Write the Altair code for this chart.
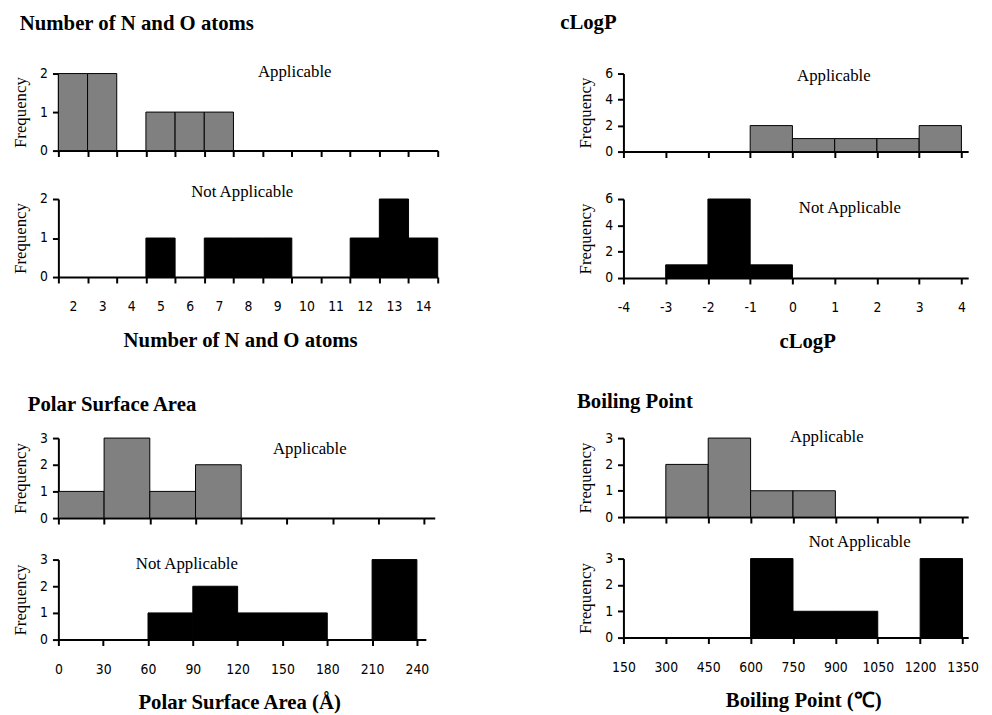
import altair as alt
import pandas as pd

SERIF = "Liberation Serif"
NARROW = "Liberation Sans Narrow, Arial Narrow, DejaVu Sans Condensed, sans-serif"

# ---------------- data ----------------
no_atoms = [2, 3, 4, 5, 6, 7, 8, 9, 10, 11, 12, 13, 14]
no_applicable = [2, 2, 0, 1, 1, 1, 0, 0, 0, 0, 0, 0, 0]
no_not_applicable = [0, 0, 0, 1, 0, 1, 1, 1, 0, 0, 1, 2, 1]

clogp_edges = [-4, -3, -2, -1, 0, 1, 2, 3, 4]
clogp_applicable = [0, 0, 0, 2, 1, 1, 1, 2]
clogp_not_applicable = [0, 1, 6, 1, 0, 0, 0, 0]

psa_edges = [0, 30, 60, 90, 120, 150, 180, 210, 240]
psa_applicable = [1, 3, 1, 2, 0, 0, 0, 0]
psa_not_applicable = [0, 0, 1, 2, 1, 1, 0, 3]

bp_edges = [150, 300, 450, 600, 750, 900, 1050, 1200, 1350]
bp_applicable = [0, 2, 3, 1, 1, 0, 0, 0]
bp_not_applicable = [0, 0, 0, 3, 1, 1, 0, 3]

groups = ["Applicable", "Not Applicable"]
fills = ["#808080", "#000000"]

# annotation anchors in data units: [Applicable, Not Applicable]
no_note_x, no_note_y = [9.6, 7.8], [2.05, 2.18]
clogp_note_x, clogp_note_y = [0.98, 1.36], [5.77, 5.33]
psa_note_x, psa_note_y = [165, 86], [2.59, 2.85]
bp_note_x, bp_note_y = [870, 986], [3.04, 3.64]

no_lo = [v - 0.5 for v in no_atoms]
no_hi = [v + 0.5 for v in no_atoms]
no_bounds = [v - 0.5 for v in no_atoms] + [no_atoms[-1] + 0.5]

PLAIN = "'' + datum.value"


def panel(lo, hi, counts, fill, xdom, xticks, ydom, yticks, w, h, note, nx, ny,
          show_labels, xtitle=None, title=None, label_expr=PLAIN, tick_opacity=None,
          title_x=None):
    df = pd.DataFrame({"lo": lo, "hi": hi, "n": counts})
    df = df[df["n"] > 0]
    ax = dict(values=xticks, labels=show_labels, title=xtitle, grid=False,
              labelOverlap=False, labelFlush=False, labelExpr=label_expr)
    if tick_opacity:
        ax["tickOpacity"] = tick_opacity
    if xtitle:
        ax.update(titleFont=SERIF, titleFontSize=21, titleFontWeight="bold", titlePadding=16)
    if title_x is not None:
        ax["titleX"] = title_x
    xaxis = alt.Axis(**ax)
    yaxis = alt.Axis(values=yticks, title="Frequency", grid=False, titleFont=SERIF,
                     titleFontSize=17, titleFontWeight="normal", titlePadding=10,
                     labelExpr=PLAIN)
    xscale = alt.Scale(domain=xdom, nice=False, zero=False)
    yscale = alt.Scale(domain=ydom, nice=False)
    bars = alt.Chart(df).mark_rect(fill=fill, stroke="black", strokeWidth=1).encode(
        x=alt.X("lo:Q", scale=xscale, axis=xaxis),
        x2="hi:Q",
        y=alt.Y("n:Q", scale=yscale, axis=yaxis),
        y2=alt.datum(0),
    )
    tdf = pd.DataFrame({"lo": [nx], "n": [ny], "label": [note]})
    text = alt.Chart(tdf).mark_text(font=SERIF, fontSize=17, color="black").encode(
        x=alt.X("lo:Q", scale=xscale, axis=xaxis),
        y=alt.Y("n:Q", scale=yscale, axis=yaxis),
        text="label:N",
    )
    props = dict(width=w, height=h)
    if title is not None:
        props["title"] = title
    return alt.layer(bars, text).properties(**props)


def ptitle(text, offset, dx):
    return alt.TitleParams(text=text, anchor="start", frame="bounds", font=SERIF, fontSize=21,
                           fontWeight="bold", color="black", offset=offset, dx=dx)


# Panel 1: Number of N and O atoms
no_all_vals = sorted(set(no_bounds + no_atoms))
t1 = panel(no_lo, no_hi, no_applicable, fills[0], [1.5, 14.5], no_bounds, [0, 2], [0, 1, 2],
           384, 78, groups[0], no_note_x[0], no_note_y[0], False,
           title=ptitle("Number of N and O atoms", 29, 8))
b1 = panel(no_lo, no_hi, no_not_applicable, fills[1], [1.5, 14.5], no_all_vals, [0, 2], [0, 1, 2],
           384, 79, groups[1], no_note_x[1], no_note_y[1], True,
           xtitle="Number of N and O atoms",
           label_expr="datum.value % 1 === 0 ? '' + datum.value : ''",
           tick_opacity={"condition": {"test": "datum.value % 1 === 0", "value": 0}, "value": 1},
           title_x=184)

# Panel 2: cLogP
t2 = panel(clogp_edges[:-1], clogp_edges[1:], clogp_applicable, fills[0], [-4, 4.16], clogp_edges,
           [0, 6], [0, 2, 4, 6], 349, 79, groups[0], clogp_note_x[0], clogp_note_y[0], False,
           title=ptitle("cLogP", 34, -17))
b2 = panel(clogp_edges[:-1], clogp_edges[1:], clogp_not_applicable, fills[1], [-4, 4.16], clogp_edges,
           [0, 6], [0, 2, 4, 6], 349, 80, groups[1], clogp_note_x[1], clogp_note_y[1], True,
           xtitle="cLogP", title_x=186)

# Panel 3: Polar Surface Area
t3 = panel(psa_edges[:-1], psa_edges[1:], psa_applicable, fills[0], [0, 247], psa_edges,
           [0, 3], [0, 1, 2, 3], 381, 81, groups[0], psa_note_x[0], psa_note_y[0], False,
           title=ptitle("Polar Surface Area", 16, 16))
b3 = panel(psa_edges[:-1], psa_edges[1:], psa_not_applicable, fills[1], [0, 246], psa_edges,
           [0, 3], [0, 1, 2, 3], 372, 81, groups[1], psa_note_x[1], psa_note_y[1], True,
           xtitle="Polar Surface Area (Å)", title_x=183)

# Panel 4: Boiling Point
t4 = panel(bp_edges[:-1], bp_edges[1:], bp_applicable, fills[0], [150, 1370], bp_edges,
           [0, 3], [0, 1, 2, 3], 349, 80, groups[0], bp_note_x[0], bp_note_y[0], False,
           title=ptitle("Boiling Point", 16, 0))
b4 = panel(bp_edges[:-1], bp_edges[1:], bp_not_applicable, fills[1], [150, 1370], bp_edges,
           [0, 3], [0, 1, 2, 3], 349, 80, groups[1], bp_note_x[1], bp_note_y[1], True,
           xtitle="Boiling Point (\u2103)", title_x=182)

left = alt.vconcat(
    alt.vconcat(t1, b1, spacing=25),
    alt.vconcat(t3, b3, spacing=28),
    spacing=45,
)
right = alt.vconcat(
    alt.vconcat(t2, b2, spacing=34),
    alt.vconcat(t4, b4, spacing=8),
    spacing=40,
)

chart = alt.hconcat(left, right, spacing=122).properties(
    padding={"left": 3, "top": 0, "right": 5, "bottom": 0},
    background="white",
).configure_view(stroke=None).configure_axis(
    domainColor="black", domainWidth=2, tickColor="black", tickWidth=2, tickSize=6,
    labelFont=NARROW, labelFontSize=14, labelColor="black", labelPadding=5,
    titleColor="black",
).configure_axisX(labelPadding=17)

chart.save("out.html", embed_options={"renderer": "svg", "actions": False})
